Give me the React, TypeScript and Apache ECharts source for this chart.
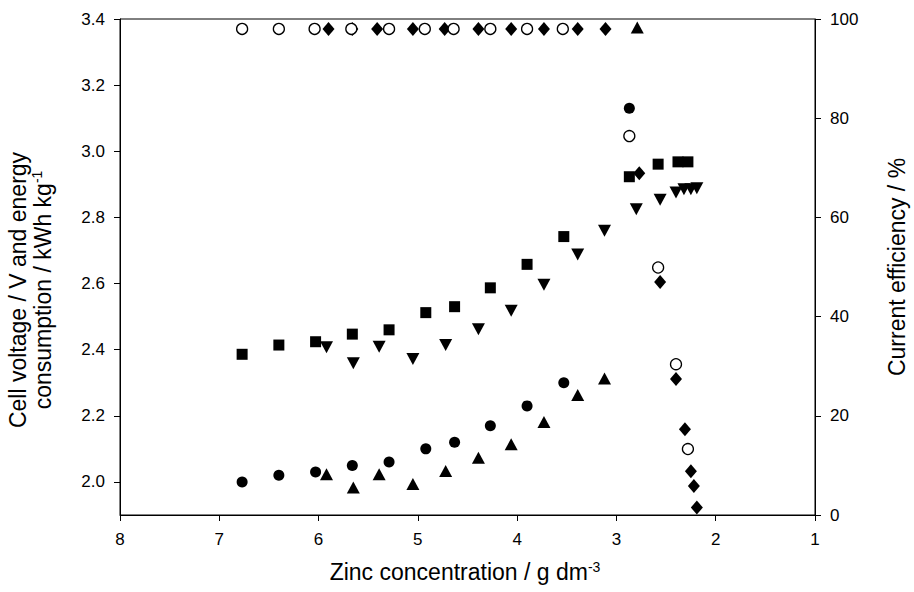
import { useEffect, useRef } from 'react';
import * as echarts from 'echarts';

// Zinc concentration / g dm-3
const exp1Conc = [6.77, 6.40, 6.03, 5.66, 5.29, 4.92, 4.63, 4.27, 3.90, 3.53, 2.87];
const exp1Voltage = [2.00, 2.02, 2.03, 2.05, 2.06, 2.10, 2.12, 2.17, 2.23, 2.30, 3.13];

const exp1EnergyConc = [6.77, 6.40, 6.03, 5.66, 5.29, 4.92, 4.63, 4.27, 3.90, 3.53, 2.87, 2.58, 2.38, 2.28];
const exp1Energy = [2.386, 2.414, 2.424, 2.447, 2.460, 2.512, 2.530, 2.587, 2.658, 2.742, 2.923, 2.961, 2.968, 2.968];

const exp1CEConc = [6.77, 6.40, 6.04, 5.67, 5.29, 4.93, 4.64, 4.27, 3.90, 3.54, 2.87, 2.58, 2.40, 2.28];
const exp1CE = [98.0, 98.0, 98.0, 98.0, 98.0, 98.0, 98.0, 98.0, 98.0, 98.0, 76.4, 49.9, 30.4, 13.3];

const exp2Conc = [5.92, 5.65, 5.39, 5.05, 4.72, 4.39, 4.06, 3.73, 3.39, 3.12, 2.79];
const exp2Voltage = [2.023, 1.983, 2.023, 1.994, 2.033, 2.073, 2.114, 2.181, 2.263, 2.313, 3.374];

const exp2EnergyConc = [5.92, 5.65, 5.39, 5.05, 4.72, 4.39, 4.06, 3.73, 3.39, 3.12, 2.80, 2.56, 2.40, 2.32, 2.25, 2.19];
const exp2Energy = [2.407, 2.359, 2.409, 2.372, 2.414, 2.462, 2.518, 2.596, 2.688, 2.760, 2.825, 2.853, 2.875, 2.885, 2.885, 2.888];

const exp2CEConc = [5.90, 5.66, 5.41, 5.05, 4.73, 4.39, 4.06, 3.73, 3.39, 3.11, 2.77, 2.56, 2.40, 2.31, 2.25, 2.22, 2.19];
const exp2CE = [98.0, 98.0, 98.0, 98.0, 98.0, 98.0, 98.0, 98.0, 98.0, 98.0, 68.9, 47.0, 27.4, 17.3, 8.8, 5.85, 1.5];

const leftTicks = [2.0, 2.2, 2.4, 2.6, 2.8, 3.0, 3.2, 3.4];

const FONT = "'Liberation Sans', Arial, sans-serif";

const zip = (xs: number[], ys: number[]) => xs.map((x, i) => [x, ys[i]]);

export default function App() {
  const ref = useRef<HTMLDivElement>(null);
  useEffect(() => {
    const chart = echarts.init(ref.current!, null, { renderer: 'svg' });
    const axisCommon = {
      axisLine: { show: true, lineStyle: { color: '#000', width: 1 } },
      axisTick: { show: true, inside: false, length: 6, lineStyle: { color: '#000', width: 1 } },
      splitLine: { show: false },
    };
    const filled = { color: '#000', opacity: 1 };
    chart.setOption({
      animation: false,
      backgroundColor: '#fff',
      grid: { left: 120, right: 99, top: 19, bottom: 77, show: true, borderColor: '#000', borderWidth: 1, backgroundColor: 'transparent' },
      xAxis: {
        type: 'value', min: 1, max: 8, interval: 1, inverse: true,
        ...axisCommon,
        axisLabel: { color: '#000', fontSize: 17, fontFamily: FONT, margin: 16 },
      },
      yAxis: [
        {
          type: 'value', min: 1.9, max: 3.4, position: 'left',
          ...axisCommon,
          axisTick: { ...axisCommon.axisTick, customValues: leftTicks },
          axisLabel: { color: '#000', fontSize: 17, fontFamily: FONT, margin: 15, customValues: leftTicks, formatter: (v: number) => v.toFixed(1) },
        },
        {
          type: 'value', min: 0, max: 100, interval: 20, position: 'right',
          ...axisCommon,
          axisLabel: { color: '#000', fontSize: 17, fontFamily: FONT, margin: 15 },
        },
      ],
      graphic: [
        {
          type: 'text', x: 30, y: 290, rotation: Math.PI / 2,
          style: {
            text: '{a|Cell voltage / V and energy}\n{a|consumption / kWh kg}{s|-1}',
            align: 'center', verticalAlign: 'middle', fill: '#000',
            rich: {
              a: { fontSize: 23, fontFamily: FONT, lineHeight: 25, fill: '#000' },
              s: { fontSize: 14, fontFamily: FONT, lineHeight: 14, verticalAlign: 'top', fill: '#000' },
            },
          },
        },
        {
          type: 'text', x: 465, y: 572,
          style: {
            text: '{a|Zinc concentration / g dm}{s|-3}',
            align: 'center', verticalAlign: 'middle', fill: '#000',
            rich: {
              a: { fontSize: 23, fontFamily: FONT, lineHeight: 25, fill: '#000' },
              s: { fontSize: 14, fontFamily: FONT, lineHeight: 14, verticalAlign: 'top', fill: '#000' },
            },
          },
        },
        {
          type: 'text', x: 897, y: 267, rotation: Math.PI / 2,
          style: { text: 'Current efficiency / %', align: 'center', verticalAlign: 'middle', fill: '#000', fontSize: 23, fontFamily: FONT },
        },
      ],
      series: [
        {
          name: 'Exp 1 cell voltage', type: 'scatter', yAxisIndex: 0, symbol: 'circle', symbolSize: 11,
          itemStyle: filled, data: zip(exp1Conc, exp1Voltage),
        },
        {
          name: 'Exp 1 energy', type: 'scatter', yAxisIndex: 0, symbol: 'rect', symbolSize: 11,
          itemStyle: filled, data: zip(exp1EnergyConc, exp1Energy),
        },
        {
          name: 'Exp 2 cell voltage', type: 'scatter', yAxisIndex: 0, symbol: 'triangle', symbolSize: [13, 12],
          itemStyle: filled, data: zip(exp2Conc, exp2Voltage),
        },
        {
          name: 'Exp 2 energy', type: 'scatter', yAxisIndex: 0, symbol: 'triangle', symbolSize: [13, 12], symbolRotate: 180,
          itemStyle: filled, data: zip(exp2EnergyConc, exp2Energy),
        },
        {
          name: 'Exp 2 current efficiency', type: 'scatter', yAxisIndex: 1, symbol: 'diamond', symbolSize: [12, 14],
          itemStyle: filled, data: zip(exp2CEConc, exp2CE),
        },
        {
          name: 'Exp 1 current efficiency', type: 'scatter', yAxisIndex: 1, symbol: 'circle', symbolSize: 11,
          itemStyle: { color: '#fff', borderColor: '#000', borderWidth: 1.3, opacity: 1 }, data: zip(exp1CEConc, exp1CE),
        },
      ],
    });
    return () => chart.dispose();
  }, []);
  return <div ref={ref} style={{ position: 'absolute', left: 0, top: 0, width: 914, height: 592, background: '#fff' }} />;
}
